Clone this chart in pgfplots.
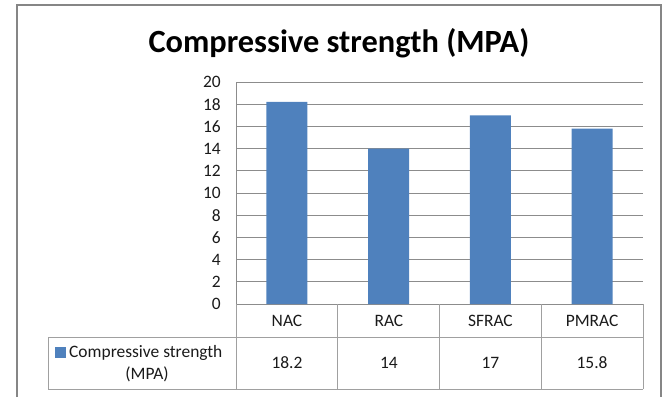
\documentclass[border=0pt]{standalone}
\usepackage{pgfplots}
\pgfplotsset{compat=1.18}
\usepackage{fontspec}
\setmainfont{Carlito}
\definecolor{barblue}{HTML}{4F81BD}
\definecolor{gridgray}{HTML}{8C8C8C}
\definecolor{framegray}{HTML}{868686}
\definecolor{tablegray}{HTML}{A0A0A0}
\definecolor{textgray}{HTML}{1A1A1A}

\begin{document}
\begin{tikzpicture}[x=1bp,y=1bp]
\useasboundingbox (0,0) rectangle (667,397);
% outer chart frame
\draw[framegray, line width=1.2bp] (17,0) -- (17,392) -- (661,392) -- (661,0);
% chart title
\node[font=\bfseries\fontsize{32.5}{34}\selectfont, text=black] at (339,354) {Compressive strength (MPA)};

\begin{axis}[
  at={(236bp,93bp)}, anchor=south west,
  scale only axis, width=407bp, height=222bp,
  xmin=-0.5, xmax=3.5, ymin=0, ymax=20,
  ytick={0,2,...,20}, xtick=\empty,
  axis lines=left,
  axis line style={draw=gridgray, line width=0.8bp, -},
  ymajorgrids, grid style={gridgray, line width=0.8bp},
  major tick length=0pt,
  /pgf/number format/assume math mode=true,
  yticklabel style={font=\fontsize{17.5}{17.5}\selectfont, text=textgray, inner sep=0pt, xshift=-15bp},
  clip=false,
]
\addplot[ybar, fill=barblue, draw=none, bar width=41bp]
  coordinates {(0,18.2) (1,14) (2,17) (3,15.8)};
\end{axis}

% data table below the plot
\begin{scope}[tablegray, line width=0.8bp]
  \draw (48,60) -- (643,60);
  \draw (48,8) -- (643,8);
  \draw (48,8) -- (48,60);
  \foreach \xx in {236,337.75,439.5,541.25,643} \draw (\xx,8) -- (\xx,93);
\end{scope}
\begin{scope}[font=\fontsize{17.5}{17.5}\selectfont, text=textgray]
  \node at (287,76) {NAC};
  \node at (388.9,76) {RAC};
  \node at (490.4,76) {SFRAC};
  \node at (592.1,76) {PMRAC};
  \node at (287,34) {18.2};
  \node at (388.9,34) {14};
  \node at (490.4,34) {17};
  \node at (592.1,34) {15.8};
  \fill[barblue] (55,39) rectangle (66,50);
  \node[anchor=west, inner sep=0pt] at (69,44.5) {Compressive strength};
  \node at (147,23) {(MPA)};
\end{scope}
\end{tikzpicture}
\end{document}
